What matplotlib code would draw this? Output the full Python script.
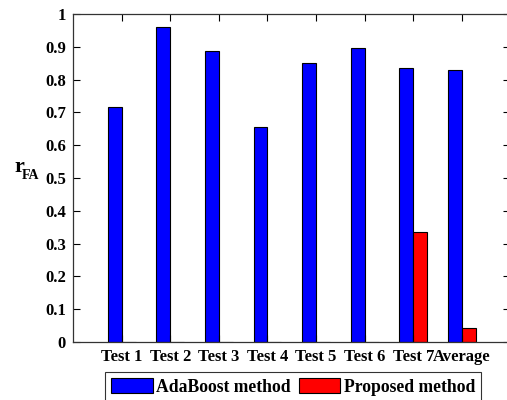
import matplotlib
matplotlib.use("Agg")
import matplotlib.pyplot as plt
import numpy as np

categories = ["Test 1", "Test 2", "Test 3", "Test 4", "Test 5", "Test 6", "Test 7", "Average"]
adaboost = [0.715, 0.961, 0.887, 0.656, 0.851, 0.897, 0.835, 0.829]
proposed = [0.0, 0.0, 0.0, 0.0, 0.0, 0.0, 0.336, 0.044]
yticks = [0, 0.1, 0.2, 0.3, 0.4, 0.5, 0.6, 0.7, 0.8, 0.9, 1]
ytick_labels = ["0", "0.1", "0.2", "0.3", "0.4", "0.5", "0.6", "0.7", "0.8", "0.9", "1"]

plt.rcParams['font.family'] = ['Liberation Serif', 'DejaVu Serif']
plt.rcParams['font.weight'] = 'bold'

fig = plt.figure(figsize=(5.07, 4.0), dpi=100)
ax = fig.add_axes([73/507, 1-342/400, (510.5-73)/507, (342-14)/400])

x = np.arange(1, len(categories)+1)
w = 0.286
b1 = ax.bar(x - w/2, adaboost, width=w, color='#0000FF', edgecolor='black', linewidth=0.8, label='AdaBoost method')
b2 = ax.bar(x + w/2, proposed, width=w, color='#FF0000', edgecolor='black', linewidth=0.8, label='Proposed method')

ax.set_xlim(0, 9)
ax.set_ylim(0, 1)
ax.set_xticks(x)
ax.set_xticklabels(categories, fontsize=12, fontweight='bold')
ax.set_yticks(yticks)
ax.set_yticklabels(ytick_labels, fontsize=12, fontweight='bold')
ax.tick_params(direction='in', length=5, width=0.8, top=True, right=True, pad=5)
for s in ax.spines.values():
    s.set_linewidth(0.9)
    s.set_color('#333333')

fig.text(14/507, 1-167/400, 'r', fontsize=16, fontweight='bold', ha='left', va='center')
fig.text(22/507, 1-176/400, 'FA', fontsize=10, fontweight='bold', ha='left', va='center')

leg = fig.legend(handles=[b1, b2], loc='upper left', bbox_to_anchor=(105/507, 1-372/400),
                 ncol=2, fontsize=12.7, frameon=True, fancybox=False, edgecolor='black',
                 handlelength=2.35, handleheight=0.95, handletextpad=0.2, columnspacing=0.45,
                 borderpad=0.35, borderaxespad=0)
leg.get_frame().set_linewidth(0.8)
for t in leg.get_texts():
    t.set_fontweight('bold')

fig.savefig('out.png', dpi=100)
